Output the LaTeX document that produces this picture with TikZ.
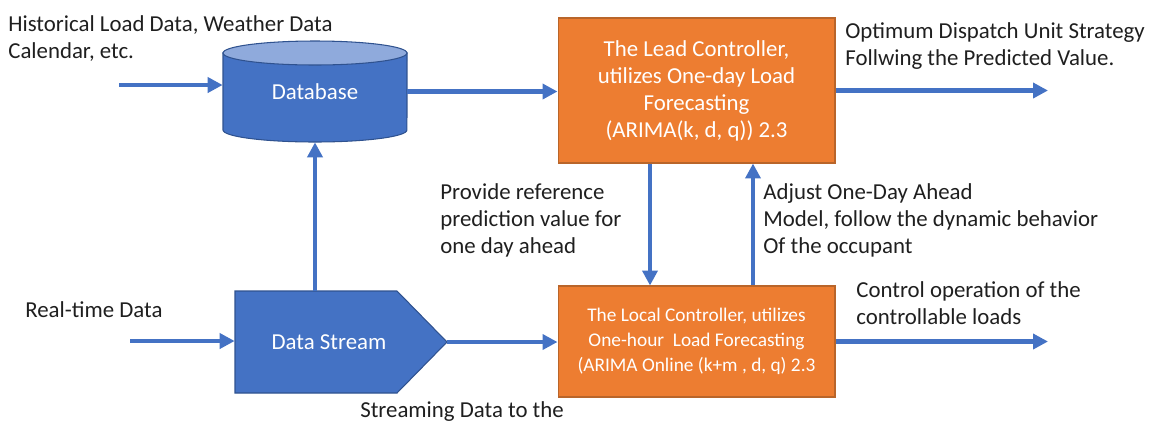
\documentclass[tikz,border=0pt]{standalone}
\usepackage{fontspec}
\setmainfont{Carlito}
\usetikzlibrary{arrows.meta}
\definecolor{fillblue}{HTML}{4472C4}
\definecolor{topblue}{HTML}{8FAADC}
\definecolor{edgeblue}{HTML}{2F528F}
\definecolor{fillorange}{HTML}{ED7D31}
\definecolor{edgeorange}{HTML}{B9652A}
\tikzset{
 flow/.style={draw=fillblue,line width=2.3pt,-{Triangle[length=8.5pt,width=8.5pt]}},
 note/.style={anchor=north west,align=left,inner sep=0pt,text=black!88,font=\fontsize{13}{15.4}\selectfont},
 ctrl/.style={fill=fillorange,draw=edgeorange,line width=0.6pt,text=white,align=center,inner sep=0pt,minimum width=5.54cm},
 bluetext/.style={text=white,inner sep=0pt,font=\fontsize{13}{15.4}\selectfont}
}
\begin{document}
\begin{tikzpicture}[x=0.02cm,y=-0.02cm]
 \useasboundingbox (0,0) rectangle (1150,424);
 % database cylinder
 \draw[fill=fillblue,draw=edgeblue,line width=0.6pt](223,53)--(223,130) arc[start angle=180,end angle=360,x radius=1.84cm,y radius=0.24cm]--(407,53)--cycle;
 \draw[fill=topblue,draw=edgeblue,line width=0.6pt](315,53) ellipse[x radius=1.84cm,y radius=0.24cm];
 \node[bluetext,minimum width=3.68cm,minimum height=2.02cm] (db) at (315,91.5) {Database};
 % data stream pentagon
 \draw[fill=fillblue,draw=edgeblue,line width=0.6pt](235,291)--(397,291)--(447,342)--(397,393)--(235,393)--cycle;
 \node[bluetext,minimum width=3.76cm,minimum height=2.04cm] (ds) at (329,342) {Data Stream};
 \coordinate (dstip) at (447,342);
 % controllers
 \node[ctrl,minimum height=2.9cm,font=\fontsize{13}{15.4}\selectfont] (lead) at (696.5,90.5)
  {The Lead Controller,\\utilizes One-day Load\\Forecasting\\(ARIMA(k, d, q)) 2.3};
 \node[ctrl,minimum height=2.22cm,font=\fontsize{11}{14.2}\selectfont] (local) at (696.5,341.5)
  {The Local Controller, utilizes\\One-hour\ \ Load Forecasting\\(ARIMA Online (k+m , d, q) 2.3};
 % free ends
 \coordinate (histin) at (119,85);
 \coordinate (rtin) at (130,341);
 \coordinate (outtop) at (1048,92);
 \coordinate (outbot) at (1048,342);
 \coordinate (down) at (650,0);
 \coordinate (up) at (753,0);
 % arrows
 \draw[flow](histin)--(histin-|db.west);
 \draw[flow](db.east)--(db.east-|lead.west);
 \draw[flow](lead.east)--(lead.east-|outtop);
 \draw[flow](ds.north-|db.south)--(db.south);
 \draw[flow](rtin)--(rtin-|ds.west);
 \draw[flow](dstip)--(dstip-|local.west);
 \draw[flow](local.east)--(local.east-|outbot);
 \draw[flow](lead.south-|down)--(local.north-|down);
 \draw[flow](local.north-|up)--(lead.south-|up);
 % labels
 \node[note] (histlbl) at (8,15) {Historical Load Data, Weather Data\\Calendar, etc.};
 \node[note] (optlbl) at (845,22) {Optimum Dispatch Unit Strategy\\Follwing the Predicted Value.};
 \node[note] (reflbl) at (440,183) {Provide reference\\prediction value for\\one day ahead};
 \node[note] (adjlbl) at (763,183) {Adjust One-Day Ahead\\Model, follow the dynamic behavior\\Of the occupant};
 \node[note] (rtlbl) at (25,301) {Real-time Data};
 \node[note] (ctllbl) at (856,281) {Control operation of the\\controllable loads};
 \node[note] (strlbl) at (360,401) {Streaming Data to the};
\end{tikzpicture}
\end{document}
